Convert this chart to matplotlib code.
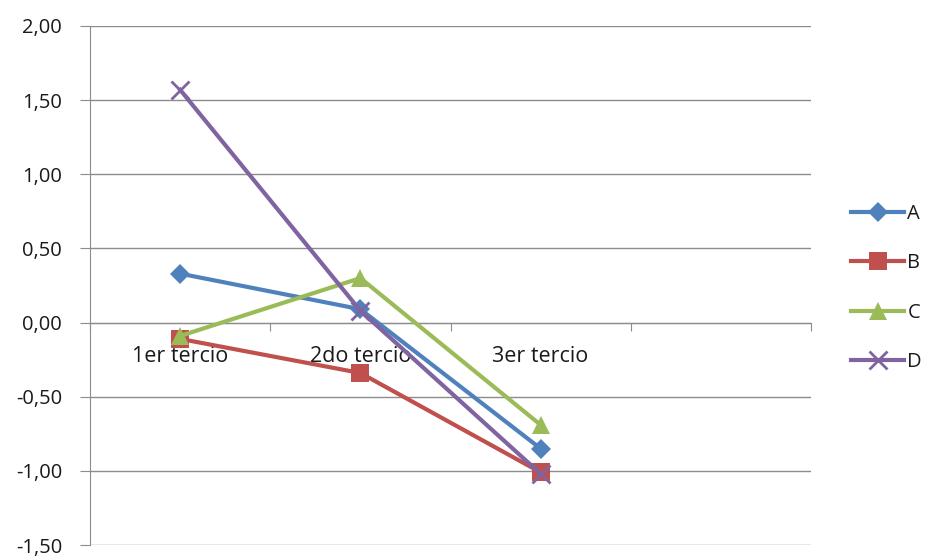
import matplotlib
matplotlib.use("Agg")
import matplotlib.pyplot as plt
from matplotlib.ticker import FixedLocator, FuncFormatter

categories = ["1er tercio", "2do tercio", "3er tercio", ""]
series_names = ["A", "B", "C", "D"]
a_vals = [0.33, 0.09, -0.85]
b_vals = [-0.11, -0.34, -1.01]
c_vals = [-0.09, 0.30, -0.69]
d_vals = [1.57, 0.08, -1.02]
y_ticks = [-1.5, -1.0, -0.5, 0.0, 0.5, 1.0, 1.5, 2.0]

colors = ["#4F81BD", "#C0504D", "#9BBB59", "#8064A2"]
markers = ["D", "s", "^", "x"]
msizes = [10.5, 13.5, 12.5, 12.5]
grid_c = "#8c8c8c"
txt_c = "#1a1a1a"
fs = 14.5

plt.rcParams['font.family'] = ['Open Sans', 'DejaVu Sans']

fig = plt.figure(figsize=(9.27, 5.57), dpi=100)
ax = fig.add_axes([90 / 927, 1 - 545 / 557, (811 - 90) / 927, (545 - 26) / 557])

x = list(range(len(a_vals)))
for vals, name, c, m, ms in zip([a_vals, b_vals, c_vals, d_vals], series_names, colors, markers, msizes):
    ax.plot(x, vals, color=c, lw=3, marker=m, markersize=ms, markeredgewidth=2 if m == "x" else 0,
            markeredgecolor=c, label=name, zorder=3)

ax.set_xlim(-0.5, len(categories) - 0.5)
ax.set_ylim(-1.5, 2.0)
ax.set_yticks(y_ticks)
ax.yaxis.set_major_formatter(FuncFormatter(lambda v, p: f"{v:.2f}".replace(".", ",")))
ax.grid(axis="y", color=grid_c, lw=1, zorder=0)

for s in ["top", "right"]:
    ax.spines[s].set_visible(False)
ax.spines["left"].set_color(grid_c)
ax.spines["bottom"].set_color(grid_c)
ax.spines["bottom"].set_position(("data", 0))

ax.xaxis.set_major_locator(FixedLocator([i - 0.5 for i in range(len(categories) + 1)]))
ax.xaxis.set_major_formatter(FuncFormatter(lambda v, p: ""))
ax.xaxis.set_minor_locator(FixedLocator(range(len(categories))))
ax.set_xticklabels(categories, minor=True)
ax.tick_params(axis="x", which="major", length=6, color=grid_c, direction="out")
ax.tick_params(axis="x", which="minor", length=0, pad=17, labelsize=15.5, labelcolor=txt_c)
ax.tick_params(axis="y", length=7, color=grid_c, pad=13, labelsize=fs, labelcolor=txt_c)

leg = fig.legend(loc="center left", bbox_to_anchor=(851 / 927, 1 - 288 / 557), frameon=False,
                 fontsize=fs, handlelength=2.65, labelspacing=1.45, handletextpad=0.15,
                 borderpad=0, borderaxespad=0)
for t in leg.get_texts():
    t.set_color(txt_c)

fig.savefig("out.png", dpi=100)
